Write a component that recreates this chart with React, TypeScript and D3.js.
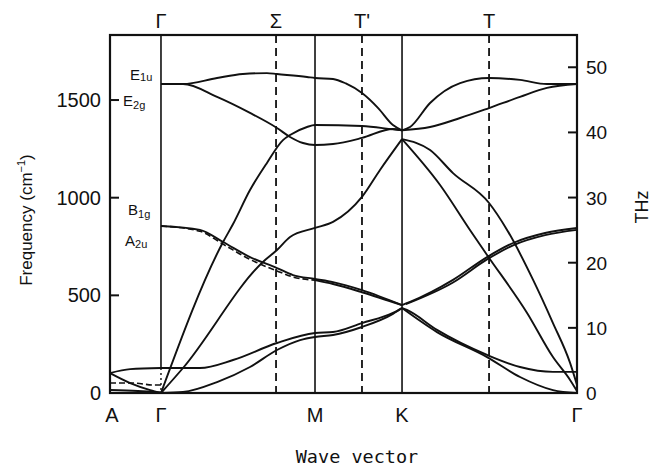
import React from 'react';
import * as d3 from 'd3';

// positions along the path, Γ–M taken as 1
const kA = -0.331;
const kG = 0;
const kM = 1;
const kK = 1.565;
const kG2 = 2.701;

const bottomLabels = [
  { t: 'A', k: kA },
  { t: 'Γ', k: kG },
  { t: 'M', k: kM },
  { t: 'K', k: kK },
  { t: 'Γ', k: kG2 },
];
const topLabels = [
  { t: 'Γ', k: kG },
  { t: 'Σ', k: 0.747 },
  { t: "T'", k: 1.305 },
  { t: 'T', k: 2.13 },
];
const solidLines = [kM, kK];
const dashedLines = [0.747, 1.305, 2.13];

const cmTicks = [0, 500, 1000, 1500];
const thzTicks = [0, 10, 20, 30, 40, 50];

// branches: [k, frequency cm-1]
const agB1g = [[-0.331, 102], [-0.2, 122], [0, 128]];
const agLA = [[-0.331, 102], [-0.2, 51], [-0.07, 15], [0, 0]];
const agShear = [[-0.331, 51], [-0.18, 51], [-0.05, 41], [0, 41]];
const agTA = [[-0.331, 15], [-0.15, 10], [0, 3]];

const e1uGMK = [[0, 1582], [0.143, 1582], [0.364, 1613], [0.532, 1633], [0.688, 1638], [0.753, 1633], [0.948, 1618], [1, 1613], [1.117, 1608], [1.2, 1585], [1.305, 1536], [1.41, 1459], [1.506, 1372], [1.565, 1345]];
const e1uKG = [[1.565, 1345], [1.617, 1362], [1.747, 1485], [1.942, 1587], [2.13, 1613], [2.331, 1603], [2.506, 1582], [2.701, 1582]];
const e2gGMK = [[0, 1582], [0.143, 1582], [0.364, 1516], [0.578, 1434], [0.753, 1357], [0.838, 1311], [0.922, 1280], [1, 1270], [1.117, 1275], [1.305, 1306], [1.506, 1352], [1.565, 1345]];
const e2gKG = [[1.565, 1345], [1.747, 1362], [1.942, 1408], [2.13, 1459], [2.331, 1516], [2.506, 1562], [2.701, 1582]];

const laGMK = [[0, 0], [0.403, 773], [0.468, 865], [0.578, 1039], [0.688, 1178], [0.792, 1295], [0.838, 1321], [0.948, 1362], [1, 1372], [1.305, 1367], [1.506, 1350], [1.565, 1345]];
const laKG = [[1.565, 1300], [1.812, 1065], [2.006, 835], [2.117, 707], [2.377, 410], [2.545, 184], [2.656, 67], [2.701, 10]];
const taGMK = [[0, 0], [0.143, 128], [0.662, 671], [0.753, 732], [0.838, 799], [1, 845], [1.117, 876], [1.305, 1004], [1.422, 1142], [1.565, 1300]];
const taKG = [[1.565, 1300], [1.747, 1244], [1.896, 1126], [2.13, 973], [2.247, 835], [2.416, 579], [2.545, 358], [2.656, 154], [2.701, 41]];

const zoGMK = [[0, 855], [0.253, 835], [0.403, 773], [0.578, 696], [0.753, 640], [0.857, 604], [1, 584], [1.117, 568], [1.305, 527], [1.565, 450]];
const zoGMdash = [[0, 855], [0.253, 828], [0.403, 762], [0.578, 684], [0.753, 625], [0.857, 594], [1, 578]];
const zoMKpair = [[1, 578], [1.117, 558], [1.305, 516], [1.565, 450]];
const zoKG = [[1.565, 450], [1.617, 466], [1.896, 579], [2.117, 696], [2.286, 768], [2.494, 819], [2.701, 845]];
const zoKGpair = [[1.59, 455], [1.896, 566], [2.117, 684], [2.286, 756], [2.494, 808], [2.701, 835]];

const ilGMK = [[0, 128], [0.253, 128], [0.468, 169], [0.753, 256], [1, 307], [1.117, 312], [1.305, 358], [1.506, 410], [1.565, 435]];
const ilKG = [[1.565, 435], [1.597, 425], [1.792, 323], [2.117, 195], [2.331, 133], [2.545, 108], [2.701, 108]];
const zaGMK = [[0, 0], [0.143, 5], [0.364, 56], [0.578, 133], [0.753, 220], [0.903, 271], [1, 287], [1.117, 297], [1.305, 338], [1.506, 405], [1.565, 435]];
const zaKG = [[1.565, 435], [1.792, 312], [2.117, 184], [2.331, 82], [2.545, 15], [2.701, 0]];

const solidBranches = [agB1g, agLA, agTA, e1uGMK, e1uKG, e2gGMK, e2gKG, laGMK, laKG, taGMK, taKG, zoGMK, zoMKpair, zoKG, zoKGpair, ilGMK, ilKG, zaGMK, zaKG];
const dashedBranches = [agShear, zoGMdash];

const CM_PER_THZ = 33.356;

const left = 110, right = 577, top = 35, bottom = 393;

export default function App() {
  const x = d3.scaleLinear().domain([kA, kG2]).range([left, right]);
  const y = d3.scaleLinear().domain([0, 1833]).range([bottom, top]);
  const yT = d3.scaleLinear().domain([0, 1833 / CM_PER_THZ]).range([bottom, top]);
  const line = d3.line<number[]>()
    .x(d => x(d[0]))
    .y(d => y(d[1]))
    .curve(d3.curveMonotoneX);

  const ink = '#111';
  const font = 'Liberation Sans, DejaVu Sans, sans-serif';

  return (
    <div style={{ position: 'absolute', left: 0, top: 0 }}>
      <svg width={653} height={473} style={{ display: 'block', background: '#fff' }}>
        {/* vertical high symmetry lines */}
        <line x1={x(kG)} x2={x(kG)} y1={top} y2={y(128)} stroke={ink} strokeWidth={1.6} />
        <line x1={x(kG)} x2={x(kG)} y1={y(128)} y2={bottom} stroke={ink} strokeWidth={1.4} strokeDasharray="2,3" />
        {solidLines.map((k, i) => (
          <line key={'s' + i} x1={x(k)} x2={x(k)} y1={top} y2={bottom} stroke={ink} strokeWidth={1.6} />
        ))}
        {dashedLines.map((k, i) => (
          <line key={'d' + i} x1={x(k)} x2={x(k)} y1={top} y2={bottom} stroke={ink} strokeWidth={1.8} strokeDasharray="8,5" />
        ))}

        {/* branches */}
        {solidBranches.map((b, i) => (
          <path key={'b' + i} d={line(b) || ''} fill="none" stroke={ink} strokeWidth={1.9} />
        ))}
        {dashedBranches.map((b, i) => (
          <path key={'db' + i} d={line(b) || ''} fill="none" stroke={ink} strokeWidth={1.6} strokeDasharray="6,3" />
        ))}

        {/* frame */}
        <rect x={left} y={top} width={right - left} height={bottom - top} fill="none" stroke={ink} strokeWidth={2.2} />

        {/* left ticks */}
        {cmTicks.map(t => (
          <g key={'l' + t}>
            {t > 0 && <line x1={left} x2={left + 9} y1={y(t)} y2={y(t)} stroke={ink} strokeWidth={2} />}
            <text x={101} y={y(t) + 7} textAnchor="end" fontFamily={font} fontSize={20} fill={ink}>{t}</text>
          </g>
        ))}
        {/* right ticks */}
        {thzTicks.map(t => (
          <g key={'r' + t}>
            {t > 0 && <line x1={right - 9} x2={right} y1={yT(t)} y2={yT(t)} stroke={ink} strokeWidth={2} />}
            <text x={586} y={yT(t) + 7} textAnchor="start" fontFamily={font} fontSize={19} fill={ink}>{t}</text>
          </g>
        ))}

        {/* symmetry labels */}
        {topLabels.map((l, i) => (
          <text key={'t' + i} x={x(l.k)} y={28} textAnchor="middle" fontFamily={font} fontSize={20} fill={ink}>{l.t}</text>
        ))}
        {bottomLabels.map((l, i) => (
          <text key={'bl' + i} x={x(l.k) + (i === 0 ? 2 : 0)} y={422} textAnchor="middle" fontFamily={font} fontSize={20} fill={ink}>{l.t}</text>
        ))}

        {/* mode labels */}
        <text x={130} y={80} fontFamily={font} fontSize={15} fill={ink}>E<tspan fontSize={11} dy={1}>1u</tspan></text>
        <text x={123} y={106} fontFamily={font} fontSize={15} fill={ink}>E<tspan fontSize={11} dy={3}>2g</tspan></text>
        <text x={128} y={215} fontFamily={font} fontSize={15} fill={ink}>B<tspan fontSize={11} dy={3}>1g</tspan></text>
        <text x={125} y={246} fontFamily={font} fontSize={15} fill={ink}>A<tspan fontSize={11} dy={2}>2u</tspan></text>

        {/* axis titles */}
        <text transform="translate(32,220) rotate(-90)" textAnchor="middle" fontFamily={font} fontSize={17} fill={ink}>
          Frequency (cm<tspan fontSize={11} dy={-7}>−1</tspan><tspan dy={7}>)</tspan>
        </text>
        <text transform="translate(648,207) rotate(-90)" textAnchor="middle" fontFamily={font} fontSize={18} fill={ink}>THz</text>
        <text x={357} y={463} textAnchor="middle" fontFamily="DejaVu Sans Mono, monospace" fontSize={18.5} fill={ink}>Wave vector</text>
      </svg>
    </div>
  );
}
